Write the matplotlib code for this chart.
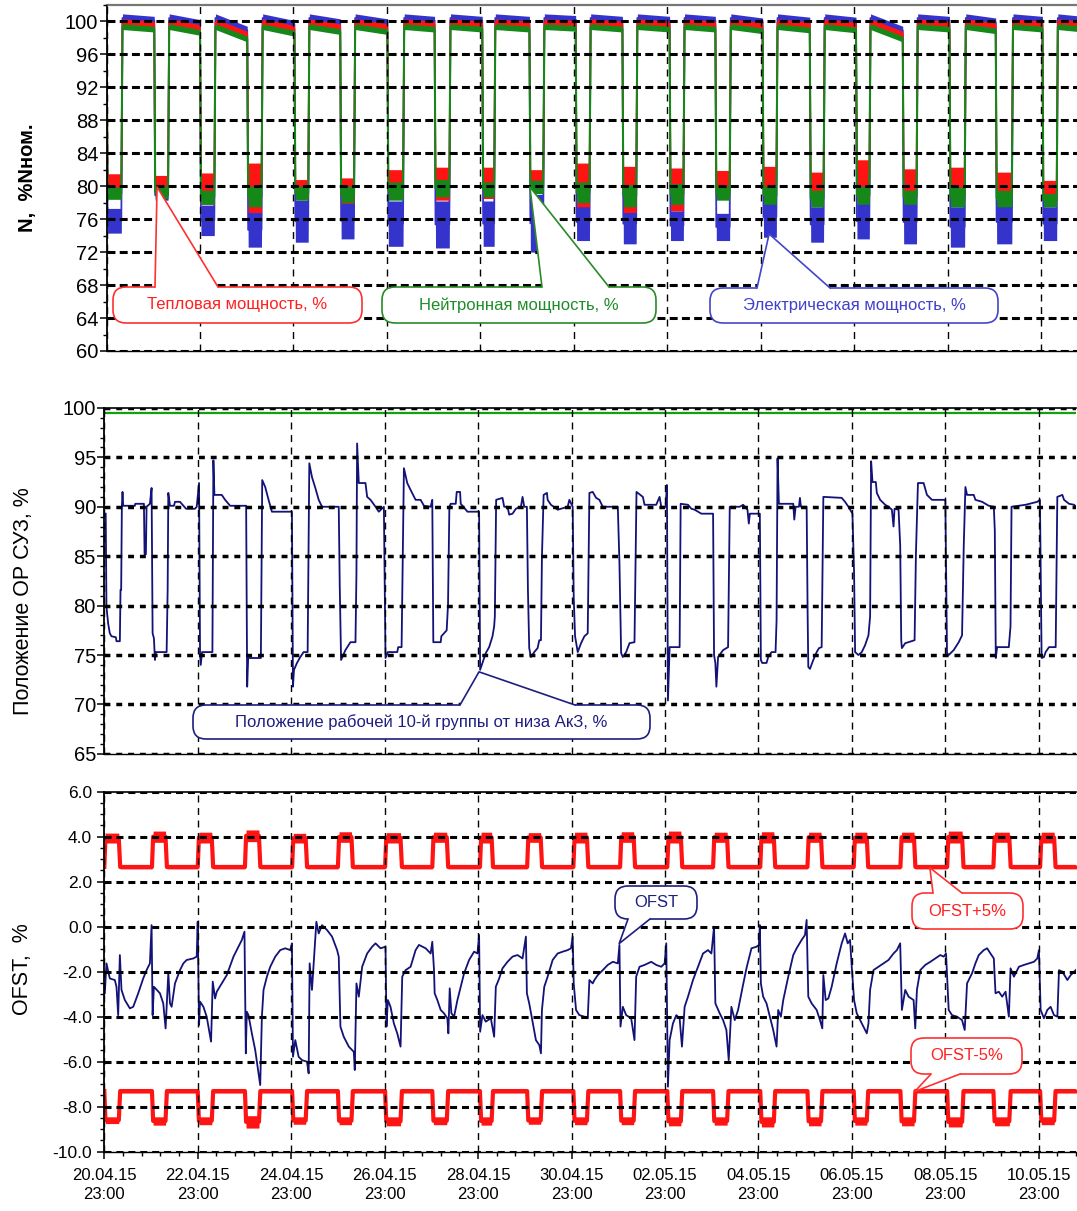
import matplotlib
matplotlib.use("Agg")
import matplotlib.pyplot as plt
import numpy as np
from matplotlib.patches import FancyBboxPatch, Polygon
from matplotlib.lines import Line2D
from matplotlib.transforms import IdentityTransform
from matplotlib.ticker import MultipleLocator, FormatStrFormatter

plt.rcParams['font.family'] = ['Liberation Sans', 'DejaVu Sans']

# ---------------- data (time in days since 20.04.15 23:00) ----------------
tick_days = [0, 2, 4, 6, 8, 10, 12, 14, 16, 18, 20]
tick_labels = ["20.04.15\n23:00", "22.04.15\n23:00", "24.04.15\n23:00", "26.04.15\n23:00",
               "28.04.15\n23:00", "30.04.15\n23:00", "02.05.15\n23:00", "04.05.15\n23:00",
               "06.05.15\n23:00", "08.05.15\n23:00", "10.05.15\n23:00"]
t_end = 20.8

# night (reduced power) periods
night_start = [0.00, 1.02, 2.00, 3.01, 4.02, 5.00, 6.01, 7.02, 8.04, 9.05, 10.04,
               11.04, 12.05, 13.03, 14.04, 15.05, 16.04, 17.04, 18.04, 19.03, 20.03]
night_end = [0.34, 1.34, 2.33, 3.34, 4.34, 5.32, 6.37, 7.36, 8.32, 9.37, 10.36,
             11.36, 12.37, 13.36, 14.36, 15.37, 16.35, 17.36, 18.39, 19.40, 20.36]

# power, % Nnom : night band (low / high) per night
thermal_lo = [78.6, 79.2, 77.8, 76.8, 78.5, 77.9, 78.7, 78.3, 78.5, 80.0, 77.5,
              76.8, 77.0, 78.7, 79.5, 79.1, 78.3, 79.1, 78.3, 78.7, 78.7]
thermal_hi = [81.5, 81.3, 81.6, 82.8, 80.8, 81.0, 82.0, 82.3, 82.3, 82.0, 82.8,
              82.4, 82.2, 81.9, 82.4, 81.7, 83.2, 82.1, 82.3, 81.7, 80.7]
neutron_lo = [78.4, 78.5, 77.8, 77.5, 78.3, 78.0, 78.3, 78.7, 78.7, 79.1, 78.0,
              77.5, 77.8, 78.3, 77.8, 77.5, 77.8, 77.8, 77.5, 77.5, 77.5]
neutron_hi = [79.9, 80.0, 79.5, 80.0, 80.0, 80.0, 80.5, 80.8, 80.5, 80.7, 80.5,
              80.2, 80.3, 80.0, 80.0, 79.5, 80.0, 79.5, 79.9, 79.5, 79.1]
electric_lo = [74.3, 78.3, 74.0, 72.6, 73.2, 73.6, 72.7, 72.5, 72.7, 72.0, 73.4,
               73.0, 73.4, 73.4, 73.8, 73.2, 73.6, 73.0, 72.6, 73.0, 73.4]
electric_hi = [77.3, 79.5, 77.7, 76.8, 78.3, 78.0, 78.2, 78.2, 78.2, 79.0, 77.9,
               77.9, 77.0, 76.7, 78.7, 77.5, 77.9, 78.3, 77.5, 78.3, 77.5]
# day band (low, high)
thermal_day = [99.4, 100.3]
neutron_day = [99.0, 99.7]
electric_day = [99.9, 100.9]
# decline of the day level towards the end of each day
day_drop = [0.3, 0.7, 1.5, 0.8, 0.6, 0.6, 0.3, 0.3, 0.3, 0.2, 0.3,
            0.3, 0.3, 0.5, 0.4, 0.4, 1.5, 0.3, 0.5, 0.3, 0.3]

# control rod group position, %
rod_t = [0.03, 0.046, 0.082, 0.118, 0.154, 0.247, 0.261, 0.333, 0.347, 0.361, 0.376, 0.39, 0.404,
         0.655, 0.662, 0.848, 0.862, 0.89, 0.905, 0.976, 1.012, 1.034, 1.062, 1.084, 1.105, 1.334,
         1.356, 1.37, 1.406, 1.491, 1.513, 1.62, 1.656, 1.749, 1.942, 1.978, 2.028, 2.049, 2.064,
         2.092, 2.314, 2.335, 2.357, 2.514, 2.586, 2.693, 3.036, 3.058, 3.079, 3.351, 3.38, 3.444,
         3.516, 3.587, 4.016, 4.038, 4.06, 4.124, 4.195, 4.266, 4.352, 4.388, 4.445, 4.517, 4.589,
         4.66, 5.018, 5.039, 5.068, 5.161, 5.268, 5.376, 5.397, 5.411, 5.447, 5.59, 5.626, 5.698,
         5.805, 5.876, 5.984, 6.019, 6.069, 6.27, 6.291, 6.363, 6.377, 6.413, 6.484, 6.556, 6.663,
         6.77, 6.842, 6.985, 7.02, 7.042, 7.2, 7.214, 7.328, 7.357, 7.386, 7.414, 7.522, 7.543,
         7.615, 7.629, 7.686, 7.736, 7.772, 8.022, 8.044, 8.094, 8.165, 8.237, 8.309, 8.344, 8.359,
         8.387, 8.523, 8.559, 8.63, 8.666, 8.738, 8.809, 8.917, 8.952, 8.988, 9.045, 9.067, 9.095,
         9.131, 9.203, 9.274, 9.31, 9.346, 9.367, 9.403, 9.474, 9.489, 9.56, 9.703, 9.918, 9.954,
         10.025, 10.047, 10.076, 10.133, 10.204, 10.276, 10.347, 10.383, 10.454, 10.526, 10.597,
         10.669, 10.991, 11.026, 11.062, 11.098, 11.17, 11.241, 11.348, 11.391, 11.527, 11.563,
         11.813, 11.885, 11.921, 12.014, 12.042, 12.064, 12.1, 12.314, 12.336, 12.493, 12.565,
         12.636, 12.779, 13.03, 13.051, 13.079, 13.101, 13.137, 13.244, 13.351, 13.387, 13.602,
         13.673, 13.766, 13.795, 13.817, 14.031, 14.053, 14.081, 14.174, 14.21, 14.281, 14.367,
         14.389, 14.41, 14.439, 14.746, 14.768, 14.797, 14.868, 14.889, 14.911, 15.033, 15.054,
         15.068, 15.104, 15.175, 15.247, 15.297, 15.354, 15.39, 15.783, 15.855, 15.927, 16.013,
         16.048, 16.07, 16.141, 16.213, 16.284, 16.356, 16.391, 16.413, 16.442, 16.513, 16.535,
         16.606, 16.714, 16.785, 16.857, 16.892, 16.914, 17.0, 17.035, 17.057, 17.071, 17.143,
         17.343, 17.372, 17.415, 17.536, 17.608, 17.715, 18.001, 18.037, 18.073, 18.18, 18.288,
         18.359, 18.395, 18.431, 18.466, 18.609, 18.645, 18.788, 18.931, 19.039, 19.06, 19.081,
         19.11, 19.36, 19.396, 19.418, 19.718, 19.969, 20.026, 20.062, 20.112, 20.148, 20.22,
         20.363, 20.398, 20.506, 20.542, 20.649, 20.756, 20.871]
rod_v = [89.3, 79.9, 78.2, 77.2, 76.9, 76.8, 76.4, 76.4, 81.6, 81.6, 90.0, 91.5, 90.1,
         90.1, 90.3, 90.3, 85.2, 85.2, 90.0, 90.3, 91.9, 77.2, 76.7, 74.5, 75.3, 75.3,
         81.6, 91.4, 90.1, 90.1, 90.5, 90.5, 90.3, 89.8, 89.8, 90.0, 92.4, 75.2, 74.0,
         75.3, 75.3, 94.7, 91.2, 91.2, 90.7, 90.1, 90.1, 71.8, 74.7, 74.7, 92.7, 92.0,
         90.7, 89.5, 89.5, 71.8, 73.5, 74.2, 74.8, 75.3, 75.3, 94.4, 93.0, 91.9, 90.7,
         90.0, 90.0, 82.1, 74.5, 75.5, 76.3, 76.3, 83.3, 96.4, 92.4, 92.4, 91.0, 90.7,
         90.0, 89.5, 90.0, 74.7, 75.3, 75.3, 75.8, 75.8, 80.9, 93.9, 92.4, 91.7, 90.7,
         90.7, 90.1, 90.0, 90.7, 76.3, 76.3, 76.9, 77.5, 80.1, 90.0, 90.3, 90.3, 91.5,
         91.5, 90.3, 90.0, 89.7, 89.5, 89.5, 73.5, 74.2, 75.2, 75.8, 76.9, 77.9, 78.9,
         90.7, 90.9, 90.0, 90.0, 89.2, 89.3, 89.8, 90.0, 91.0, 90.0, 90.0, 81.6, 75.7,
         74.8, 75.3, 75.7, 76.5, 76.5, 84.9, 91.2, 91.4, 90.7, 90.2, 89.7, 90.0, 90.7,
         90.0, 80.9, 76.9, 75.3, 76.2, 76.9, 77.2, 91.4, 91.5, 90.9, 90.7,
         90.0, 90.0, 84.3, 75.2, 74.8, 75.3, 76.2, 76.3, 91.5, 91.0, 90.2,
         90.2, 91.0, 90.0, 90.0, 92.2, 70.4, 75.8, 75.8, 90.3, 90.2, 89.8,
         89.7, 89.3, 89.3, 75.0, 74.2, 71.8, 74.8, 75.5, 75.8, 90.0, 90.0,
         90.2, 89.7, 88.3, 89.3, 89.3, 74.5, 74.2, 74.2, 74.8, 75.3, 75.3,
         78.5, 94.9, 90.3, 90.3, 88.7, 90.0, 90.0, 90.9, 90.0, 90.0, 79.0,
         73.8, 73.6, 74.5, 75.3, 75.7, 75.8, 91.0, 90.9, 90.5, 90.0, 89.3,
         83.3, 75.3, 75.0, 75.3, 76.0, 77.0, 78.9, 94.6, 92.5, 92.5, 91.4,
         90.7, 90.2, 90.0, 89.7, 88.0, 89.8, 89.7, 86.1, 76.5, 75.7, 76.2,
         76.5, 85.3, 92.4, 92.4, 91.2, 90.7, 90.7, 75.2, 75.0, 75.5, 76.3,
         77.0, 86.0, 92.0, 91.2, 91.2, 90.7, 90.5, 90.1, 90.0, 87.6, 74.7,
         75.8, 75.8, 77.9, 90.0, 90.2, 90.5, 90.7, 74.7, 74.8, 75.3, 75.8,
         75.8, 91.0, 91.2, 90.7, 90.3, 90.2, 89.7]
rod_limit_t = [0.0, 20.8]
rod_limit_v = [99.45, 99.45]

# axial offset OFST, %
ofst_t = [0.011, 0.046, 0.118, 0.225, 0.261, 0.297, 0.333, 0.368, 0.44, 0.547, 0.619, 0.726,
          0.833, 0.905, 0.976, 1.012, 1.034, 1.062, 1.191, 1.262, 1.312, 1.37, 1.406, 1.441,
          1.513, 1.62, 1.692, 1.763, 1.906, 1.978, 1.999, 2.028, 2.049, 2.121, 2.192, 2.285,
          2.321, 2.371, 2.407, 2.514, 2.622, 2.765, 2.836, 2.944, 3.0, 3.029, 3.05, 3.086,
          3.158, 3.23, 3.28, 3.337, 3.373, 3.408, 3.48, 3.552, 3.659, 3.766, 3.873, 3.98,
          4.016, 4.038, 4.088, 4.159, 4.231, 4.338, 4.374, 4.395, 4.445, 4.481, 4.539, 4.589,
          4.66, 4.768, 4.875, 4.983, 5.018, 5.054, 5.125, 5.233, 5.34, 5.361, 5.397, 5.447,
          5.519, 5.626, 5.733, 5.805, 5.912, 6.019, 6.04, 6.069, 6.126, 6.198, 6.27, 6.341,
          6.377, 6.449, 6.556, 6.663, 6.735, 6.878, 6.985, 7.02, 7.057, 7.071, 7.128, 7.2,
          7.271, 7.343, 7.364, 7.393, 7.429, 7.486, 7.558, 7.629, 7.701, 7.808, 7.915, 7.987,
          8.022, 8.044, 8.094, 8.165, 8.273, 8.344, 8.38, 8.452, 8.523, 8.63, 8.738, 8.845,
          8.952, 9.024, 9.045, 9.095, 9.167, 9.238, 9.31, 9.346, 9.367, 9.417, 9.489, 9.596,
          9.703, 9.811, 9.918, 9.989, 10.025, 10.047, 10.097, 10.168, 10.276, 10.347, 10.383,
          10.454, 10.49, 10.562, 10.669, 10.776, 10.884, 10.991, 11.026, 11.048, 11.098, 11.17,
          11.277, 11.348, 11.384, 11.456, 11.563, 11.706, 11.814, 11.921, 11.993, 12.028,
          12.064, 12.1, 12.171, 12.243, 12.314, 12.364, 12.421, 12.493, 12.6, 12.708, 12.815,
          12.922, 12.994, 13.051, 13.079, 13.172, 13.244, 13.315, 13.365, 13.422, 13.494,
          13.565, 13.67, 13.75, 13.852, 13.96, 14.01, 14.031, 14.053, 14.102, 14.174, 14.245,
          14.317, 14.389, 14.424, 14.481, 14.532, 14.639, 14.746, 14.818, 14.925, 14.997,
          15.032, 15.068, 15.14, 15.247, 15.318, 15.368, 15.39, 15.44, 15.497, 15.568, 15.676,
          15.783, 15.855, 15.912, 15.962, 15.998, 16.048, 16.105, 16.177, 16.248, 16.32,
          16.356, 16.391, 16.463, 16.57, 16.677, 16.785, 16.892, 16.964, 17.035, 17.071,
          17.143, 17.214, 17.322, 17.357, 17.393, 17.465, 17.572, 17.68, 17.787, 17.894,
          17.966, 18.016, 18.073, 18.144, 18.252, 18.359, 18.416, 18.466, 18.573, 18.645,
          18.717, 18.824, 18.896, 18.967, 19.039, 19.075, 19.146, 19.218, 19.29, 19.361,
          19.397, 19.469, 19.576, 19.683, 19.79, 19.898, 19.969, 20.005, 20.041, 20.112,
          20.184, 20.255, 20.327, 20.399, 20.434, 20.506, 20.613, 20.685, 20.792, 20.871]
ofst_v = [-2.96, -1.63, -2.30, -2.37, -2.67, -3.93, -1.26, -2.81, -3.26, -3.63, -3.56, -2.96,
          -2.30, -1.93, -1.63, 0.07, -3.93, -2.67, -2.96, -3.41, -4.52, -2.07, -3.41, -3.56,
          -2.52, -1.93, -1.63, -1.48, -1.41, -1.33, 0.22, -4.37, -3.33, -3.56, -4.00, -5.11,
          -2.44, -3.19, -2.89, -2.52, -2.15, -1.33, -1.04, -0.59, -0.22, -5.63, -3.78, -3.93,
          -4.74, -5.48, -6.22, -7.04, -4.00, -2.81, -2.22, -1.78, -1.33, -1.04, -0.96, -1.04,
          -0.74, -5.78, -5.04, -5.78, -5.93, -6.00, -6.52, -1.63, -2.81, -1.63, 0.22, -0.30,
          0.07, -0.15, -0.44, -1.04, -1.33, -4.44, -4.89, -5.33, -5.56, -6.37, -2.52, -3.11,
          -1.78, -1.19, -0.89, -0.74, -0.96, -0.89, -4.44, -3.26, -3.56, -4.30, -4.74, -5.33,
          -2.22, -1.93, -1.78, -1.04, -0.81, -0.96, -1.19, -0.67, -1.93, -2.96, -3.26, -3.70,
          -3.85, -4.07, -4.74, -2.74, -3.85, -4.00, -3.26, -2.67, -2.07, -1.48, -1.11, -1.19,
          -0.37, -4.67, -3.93, -4.22, -4.07, -4.89, -2.67, -2.30, -1.85, -1.56, -1.33, -1.26,
          -1.41, -0.44, -2.96, -3.41, -4.22, -5.04, -5.26, -5.63, -3.70, -2.67, -2.22, -1.48,
          -1.19, -1.11, -1.04, -0.96, -0.44, -2.52, -3.70, -3.93, -4.00, -4.07, -2.37,
          -2.52, -2.37, -2.15, -1.93, -1.70, -1.56, -1.63, -0.81, -4.44, -3.56, -3.93,
          -4.07, -5.04, -2.22, -1.78, -1.70, -1.56, -1.70, -1.78, -1.63, -0.74,
          -7.11, -5.04, -4.30, -3.93, -4.07, -5.33, -3.56, -3.11, -2.37, -1.78, -1.19,
          -1.04, -1.19, 0.00, -3.41, -3.85, -4.15, -4.59, -5.93, -3.56, -4.15,
          -3.70, -2.60, -1.80, -0.96, -0.89, -0.81, 0.07, -2.52, -3.11, -3.41, -4.00,
          -4.59, -5.33, -3.70, -4.00, -3.26, -2.22, -1.26, -0.96, -0.59, -0.37,
          0.30, -3.11, -3.41, -3.70, -4.15, -4.52, -2.15, -3.26, -3.19, -2.67, -1.63,
          -0.74, -0.30, -0.74, -0.59, -1.78, -3.26, -3.85, -4.15, -4.44, -4.74,
          -4.30, -2.81, -1.93, -1.78, -1.63, -1.48, -1.19, -1.04, -0.74, -3.70,
          -2.81, -3.11, -3.26, -4.52, -2.81, -1.93, -1.70, -1.56, -1.41, -1.26,
          -1.33, -1.19, -3.70, -3.93, -4.00, -4.15, -4.59, -2.52, -2.07, -1.63,
          -1.26, -1.04, -0.96, -1.19, -1.41, -2.96, -2.89, -3.11, -2.89, -4.00,
          -1.85, -2.22, -1.78, -1.70, -1.63, -1.56, -1.41, -1.04, -3.70, -4.07,
          -3.70, -3.56, -3.93, -4.00, -1.93, -2.00, -2.37, -2.15, -1.93, -1.78]

# OFST limits (+5% / -5%): night band (low, high) and day band
upper_night_lo = [3.72, 3.75, 3.72, 3.78, 3.72, 3.75, 3.72, 3.75, 3.72, 3.75, 3.72,
                  3.75, 3.72, 3.75, 3.72, 3.75, 3.72, 3.75, 3.72, 3.75, 3.72]
upper_night_hi = [4.16, 4.25, 4.2, 4.3, 4.15, 4.22, 4.18, 4.2, 4.2, 4.18, 4.2,
                  4.22, 4.25, 4.2, 4.22, 4.2, 4.2, 4.2, 4.25, 4.2, 4.2]
upper_day = [2.57, 2.74]
lower_night_lo = [-8.75, -8.82, -8.8, -8.95, -8.78, -8.8, -8.85, -8.8, -8.82, -8.78, -8.8,
                  -8.8, -8.85, -8.82, -8.9, -8.85, -8.82, -8.85, -8.9, -8.85, -8.8]
lower_night_hi = [-8.45, -8.45, -8.45, -8.4, -8.45, -8.45, -8.45, -8.45, -8.45, -8.45, -8.45,
                  -8.45, -8.45, -8.45, -8.45, -8.45, -8.45, -8.45, -8.45, -8.45, -8.45]
lower_day = [-7.39, -7.22]
no_drop = [0.0] * len(night_start)

# ---------------- figure ----------------
W, H = 1077, 1211
fig = plt.figure(figsize=(W / 100, H / 100), dpi=100)


def axes_px(left, top, width, height):
    return fig.add_axes([left / W, 1 - (top + height) / H, width / W, height / H])


ax1 = axes_px(106.6, 4.8, 971.8, 346.2)
ax2 = axes_px(104.3, 407.9, 971.8, 346.0)
ax3 = axes_px(104.3, 791.7, 971.8, 360.0)

RED = '#ff1414'
GREEN = '#16881a'
BLUE = '#3434cc'
NAVY = '#121278'


def build_band(n_lo, n_hi, d_lo, d_hi, drop, ramp_dn=0.02, ramp_up=0.025):
    T, LO, HI = [0.0], [d_lo], [d_hi]
    for k, (s, e) in enumerate(zip(night_start, night_end)):
        if k > 0:
            T.append(s); LO.append(d_lo - drop[k - 1]); HI.append(d_hi - drop[k - 1])
        T += [s + ramp_dn, e - ramp_up]
        LO += [n_lo[k], n_lo[k]]
        HI += [n_hi[k], n_hi[k]]
        T.append(e); LO.append(d_lo); HI.append(d_hi)
    T.append(t_end + 0.1); LO.append(d_lo - drop[-1]); HI.append(d_hi - drop[-1])
    return np.array(T), np.array(LO), np.array(HI)


def draw_band(ax, band, color, lw=1.3):
    T, LO, HI = band
    ax.fill_between(T, LO, HI, color=color, lw=0, zorder=2)
    ax.plot(T, (LO + HI) / 2, color=color, lw=lw, zorder=2)


# --- top panel: power
draw_band(ax1, build_band(electric_lo, electric_hi, *electric_day, day_drop), BLUE)
draw_band(ax1, build_band(thermal_lo, thermal_hi, *thermal_day, day_drop), RED)
draw_band(ax1, build_band(neutron_lo, neutron_hi, *neutron_day, day_drop), GREEN, lw=1.5)

# --- middle panel: rods
ax2.plot(rod_limit_t, rod_limit_v, color='#10a010', lw=1.6, zorder=2)
ax2.plot(rod_t, rod_v, color=NAVY, lw=1.3, zorder=2)

# --- bottom panel: OFST
draw_band(ax3, build_band(upper_night_lo, upper_night_hi, *upper_day, no_drop, 0.025, 0.03), RED, lw=3.0)
draw_band(ax3, build_band(lower_night_lo, lower_night_hi, *lower_day, no_drop, 0.025, 0.03), RED, lw=3.0)
ax3.plot(ofst_t, ofst_v, color=NAVY, lw=1.3, zorder=2)


def style(ax, ylim, major, minor, hdash, hlw, ysize, ypad, fmt):
    ax.set_xlim(0, t_end)
    ax.set_ylim(*ylim)
    ax.set_axisbelow(False)
    ax.set_xticks(tick_days)
    ax.yaxis.set_major_locator(MultipleLocator(major))
    ax.yaxis.set_minor_locator(MultipleLocator(minor))
    ax.yaxis.set_major_formatter(FormatStrFormatter(fmt))
    ax.grid(True, axis='y', which='major', color='black', lw=hlw, linestyle=(0, hdash))
    ax.grid(True, axis='x', which='major', color='black', lw=1.0, linestyle=(0, (5.0, 4.0)))
    ax.tick_params(axis='y', which='major', direction='out', length=5.2, width=1.1,
                   labelsize=ysize, pad=ypad)
    ax.tick_params(axis='y', which='minor', direction='out', length=3.2, width=1.0)
    ax.spines['right'].set_visible(False)
    ax.spines['left'].set_linewidth(1.3)
    ax.spines['bottom'].set_linewidth(1.0)
    ax.spines['top'].set_linewidth(1.2)
    ax.set_facecolor('white')


style(ax1, (60, 102), 4, 2, (2.6, 1.4), 2.2, 14.5, 0.8, '%d')
style(ax2, (65, 100), 5, 1, (1.7, 1.7), 2.5, 14.5, 0.8, '%d')
style(ax3, (-10, 6), 2, 0.5, (2.3, 1.6), 2.2, 12.5, 3.5, '%.1f')
ax1.spines['top'].set_color('#777777')
ax1.spines['top'].set_linewidth(1.6)

for ax in (ax1, ax2):
    ax.tick_params(axis='x', which='both', length=0, labelbottom=False)
ax3.xaxis.set_minor_locator(MultipleLocator(0.4))
ax3.set_xticklabels(tick_labels, fontsize=12, linespacing=1.35)
ax3.tick_params(axis='x', which='major', direction='out', length=4.8, width=1.1, pad=7)
ax3.tick_params(axis='x', which='minor', direction='out', length=2.6, width=1.0)

# axis titles
fig.text(28 / W, 1 - 178 / H, "N,  %Nном.", rotation=90, ha='center', va='center',
         fontsize=14.5, fontweight='bold')
fig.text(24 / W, 1 - 601 / H, "Положение ОР СУЗ, %", rotation=90, ha='center', va='center',
         fontsize=15.5)
fig.text(23 / W, 1 - 969 / H, "OFST,  %", rotation=90, ha='center', va='center',
         fontsize=15.5)


# ---------------- callouts ----------------
def callout(ax, tip, box, base, text, ec, tc):
    ident = IdentityTransform()
    tx, ty = ax.transData.transform(tip)
    x0, y0, x1, y1 = box
    bx, by, bw, bh = x0, H - y1, x1 - x0, y1 - y0
    patch = FancyBboxPatch((bx, by), bw, bh, boxstyle="round,pad=0,rounding_size=13",
                           fc='white', ec=ec, lw=1.2, transform=ident, zorder=10)
    fig.add_artist(patch)
    if ty > by + bh:
        yb, inner = by + bh, -2.5
    else:
        yb, inner = by, 2.5
    xa, xb = base
    poly = Polygon([(xa, yb + inner), (xa, yb), (tx, ty), (xb, yb), (xb, yb + inner)], closed=True,
                   fc='white', ec='none', transform=ident, zorder=11)
    fig.add_artist(poly)
    fig.add_artist(Line2D([xa, tx, xb], [yb, ty, yb], color=ec, lw=1.2, transform=ident, zorder=12))
    fig.text(bx + bw / 2, by + bh / 2, text, transform=ident, ha='center', va='center',
             color=tc, fontsize=12, zorder=13)


callout(ax1, (1.08, 79.9), (113, 287, 362, 323), (155, 218), "Тепловая мощность, %", '#ff3030', '#ff2020')
callout(ax1, (9.06, 79.9), (382, 287, 656, 323), (542, 609), "Нейтронная мощность, %", '#2a8a2a', '#1e8c2a')
callout(ax1, (14.18, 74.2), (710, 288, 998, 323), (757, 830), "Электрическая мощность, %", '#4545cc', '#4040cc')
callout(ax2, (8.02, 73.3), (193, 705, 650, 739), (460, 575),
        "Положение рабочей 10-й группы от низа АкЗ, %", '#1e1e80', '#1e1e80')
callout(ax3, (11.02, -0.75), (615, 886, 697, 919), (628, 650), "OFST", '#1e1e80', '#1e1e80')
callout(ax3, (17.67, 2.62), (912, 893, 1023, 929), (933, 962), "OFST+5%", '#ff3030', '#ff2020')
callout(ax3, (17.35, -7.32), (911, 1038, 1022, 1074), (931, 960), "OFST-5%", '#ff3030', '#ff2020')

fig.savefig("out.png", dpi=100)
